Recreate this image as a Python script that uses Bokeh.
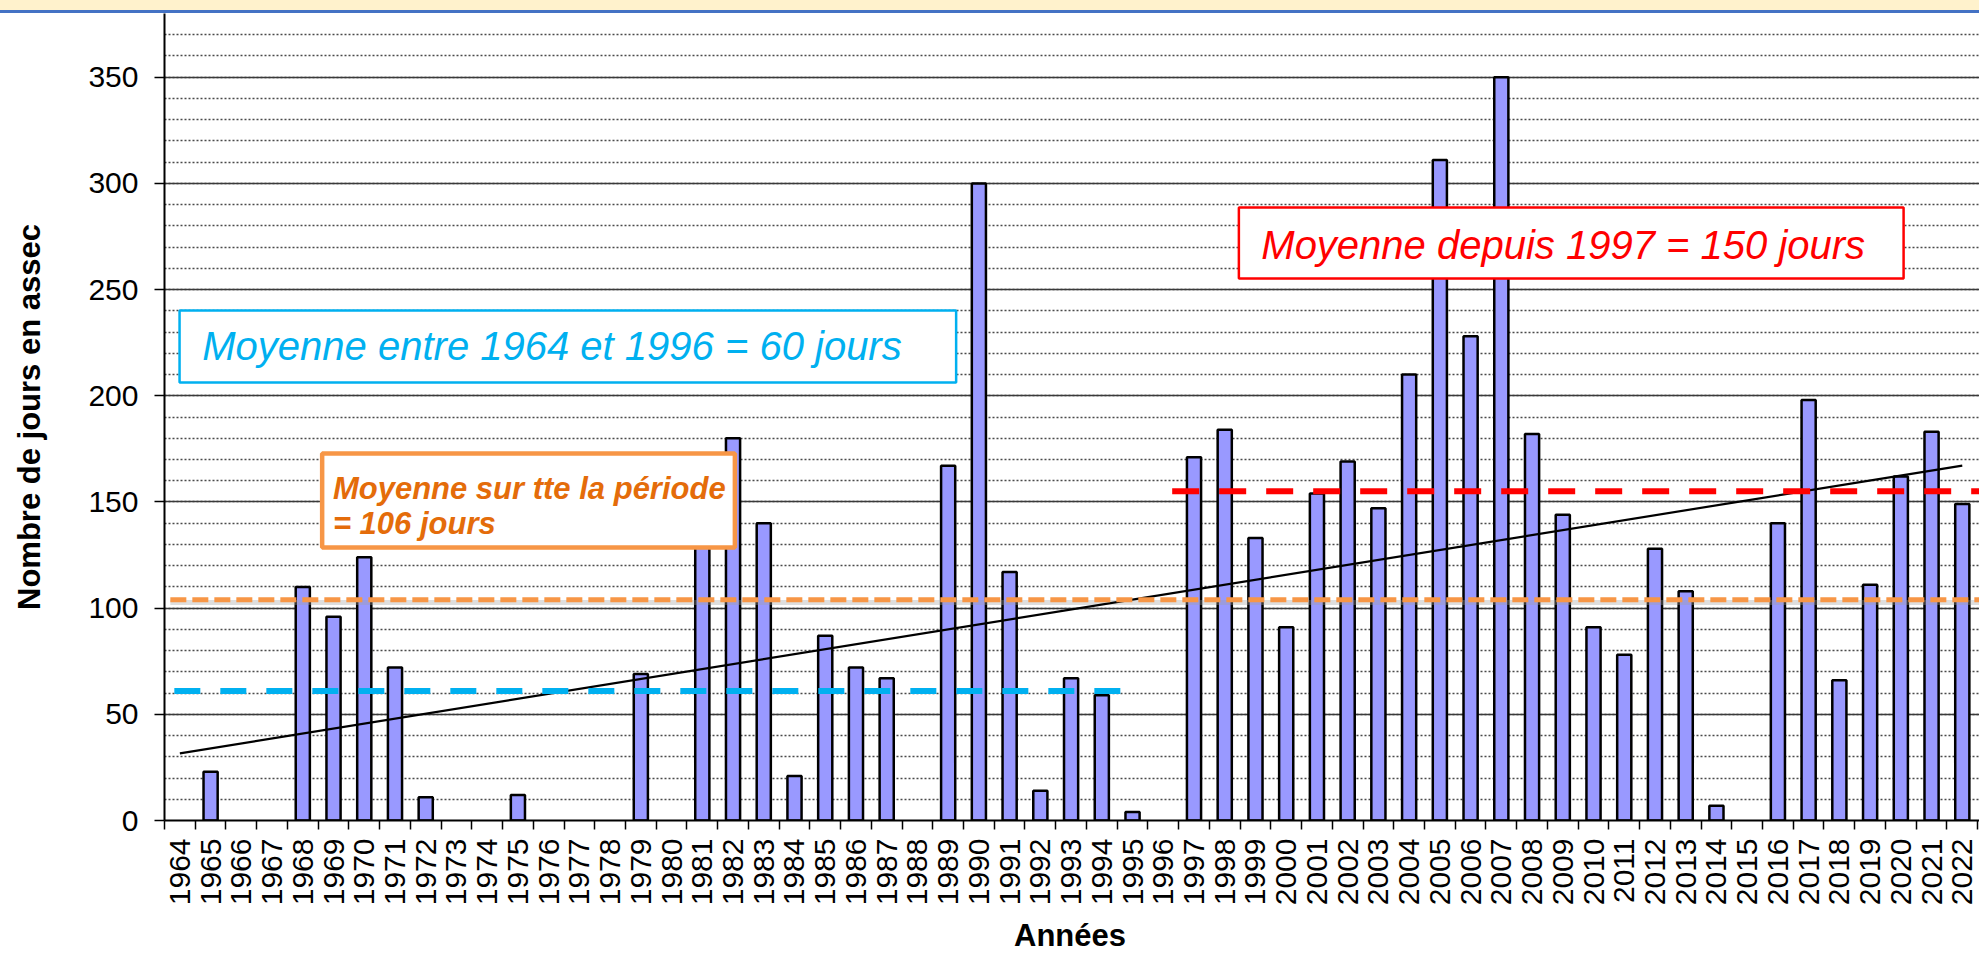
from bokeh.plotting import figure
from bokeh.models import (ColumnDataSource, FixedTicker, SingleIntervalTicker,
                          BoxAnnotation, Label, Range1d, Div)
from bokeh.layouts import column
from bokeh.embed import file_html
from bokeh.resources import INLINE

# ---------------- data ----------------
years = list(range(1964, 2023))
days = [0, 23, 0, 0, 110, 96, 124, 72, 11, 0,
        0, 12, 0, 0, 0, 69, 0, 140, 180, 140,
        21, 87, 72, 67, 0, 167, 300, 117, 14, 67,
        59, 4, 0, 171, 184, 133, 91, 154, 169, 147,
        210, 311, 228, 350, 182, 144, 91, 78, 128, 108,
        7, 0, 140, 198, 66, 111, 162, 183, 149]

# mean lines: value, start, end (x in years)
mean_values = [61, 104, 155]
mean_starts = [1963.82, 1963.69, 1996.29]
mean_ends = [1994.75, 2022.7, 2022.7]
mean_colors = ["#00B0F0", "#F79646", "#FF0000"]

# trend line end points
trend_years = [1964, 2022]
trend_values = [31.6, 167.1]

FONT = "Liberation Sans"
X_TITLE = "Années"
Y_TITLE = "Nombre de jours en assec"

# ---------------- figure ----------------
p = figure(width=1979, height=905,
           x_range=Range1d(1963.5, 2022.56), y_range=Range1d(0, 380),
           output_backend="svg", toolbar_location=None,
           min_border_left=164, min_border_right=0,
           min_border_top=0, min_border_bottom=98)
p.outline_line_color = None
p.background_fill_color = "white"
p.border_fill_color = "white"

# bars (only non-zero years are drawn)
bx = [y for y, d in zip(years, days) if d > 0]
bt = [d for d in days if d > 0]
src = ColumnDataSource(dict(x=bx, top=bt))
p.vbar(x="x", top="top", width=0.46, bottom=0, source=src,
       fill_color="#9999FF", line_color="black", line_width=2.5)

# soft shadow under the orange mean line
p.line([mean_starts[1], mean_ends[1]], [mean_values[1] - 1.4, mean_values[1] - 1.4],
       line_color="#a0a0a0", line_alpha=0.35, line_width=5)

# trend line
p.line(trend_years, trend_values, line_color="black", line_width=2.2)

# mean lines
dashes = ["26 20", "16 6", "27 20"]
widths = [6, 5, 6]
for v, s, e, c, d, w in zip(mean_values, mean_starts, mean_ends, mean_colors, dashes, widths):
    p.line([s, e], [v, v], line_color=c, line_width=w, line_dash=d)

# ---------------- axes ----------------
xa = p.xaxis[0]
xa.ticker = FixedTicker(ticks=years, minor_ticks=[y - 0.5 for y in years] + [years[-1] + 0.5])
xa.major_tick_line_color = None
xa.major_tick_out = 9
xa.major_tick_in = 0
xa.minor_tick_line_color = "black"
xa.minor_tick_line_width = 1.5
xa.minor_tick_out = 9
xa.minor_tick_in = 0
xa.major_label_orientation = 1.5707963
xa.major_label_standoff = 9
xa.major_label_text_font = FONT
xa.major_label_text_font_size = "30px"
xa.major_label_text_color = "black"
xa.axis_line_color = "black"
xa.axis_line_width = 2

ya = p.yaxis[0]
ya.ticker = SingleIntervalTicker(interval=50, num_minor_ticks=5)
ya.major_tick_out = 10
ya.major_tick_in = 0
ya.major_tick_line_color = "black"
ya.major_tick_line_width = 1.5
ya.minor_tick_line_color = None
ya.major_label_standoff = 16
ya.major_label_text_font = FONT
ya.major_label_text_font_size = "30px"
ya.major_label_text_color = "black"
ya.axis_line_color = "black"
ya.axis_line_width = 2
ya.axis_label = Y_TITLE
ya.axis_label_text_font = FONT
ya.axis_label_text_font_size = "31px"
ya.axis_label_text_font_style = "bold"
ya.axis_label_text_color = "black"
ya.axis_label_standoff = 38

p.xgrid.grid_line_color = None
p.ygrid.grid_line_color = "#3a3a3a"
p.ygrid.grid_line_width = 1.6
p.ygrid.minor_grid_line_color = "#4a4a4a"
p.ygrid.minor_grid_line_width = 1.6
p.ygrid.minor_grid_line_dash = "2 2"

# ---------------- annotation boxes ----------------
p.add_layout(BoxAnnotation(left=1963.99, right=1989.26, bottom=206.2, top=240.1,
                           fill_color="white", fill_alpha=1.0,
                           line_color="#00B0F0", line_alpha=1.0, line_width=2.5))
p.add_layout(Label(x=1964.73, y=223.2, text="Moyenne entre 1964 et 1996 = 60 jours",
                   text_font=FONT, text_font_size="40px", text_font_style="italic",
                   text_color="#00B0F0", text_baseline="middle"))

p.add_layout(BoxAnnotation(left=1968.63, right=1982.06, bottom=128.5, top=172.8,
                           fill_color="white", fill_alpha=1.0,
                           line_color="#F79646", line_alpha=1.0, line_width=4.5))
p.add_layout(Label(x=1968.98, y=156.3, text="Moyenne sur tte la période",
                   text_font=FONT, text_font_size="31px", text_font_style="bold italic",
                   text_color="#E46C0A", text_baseline="alphabetic"))
p.add_layout(Label(x=1968.98, y=139.8, text="= 106 jours",
                   text_font=FONT, text_font_size="31px", text_font_style="bold italic",
                   text_color="#E46C0A", text_baseline="alphabetic"))

p.add_layout(BoxAnnotation(left=1998.46, right=2020.09, bottom=255.2, top=288.6,
                           fill_color="white", fill_alpha=1.0,
                           line_color="#FF0000", line_alpha=1.0, line_width=2.5))
p.add_layout(Label(x=1999.19, y=271.2, text="Moyenne depuis 1997 = 150 jours",
                   text_font=FONT, text_font_size="40px", text_font_style="italic",
                   text_color="#FF0000", text_baseline="middle"))

band = Div(text="", width=1979, height=13, margin=0,
           styles={"background": "linear-gradient(to bottom, #FFF2CC 0px, #FFF2CC 10px, #4472C4 10px, #4472C4 13px)"})

x_title = Div(text=X_TITLE, width=1818, height=36, margin=(0, 0, 0, 161),
              styles={"font-family": FONT, "font-size": "31px", "font-weight": "bold",
                      "text-align": "center", "line-height": "36px", "color": "black",
                      "overflow": "hidden"})

layout = column(band, p, x_title, spacing=0)

open("out.html", "w").write(file_html(layout, INLINE))
